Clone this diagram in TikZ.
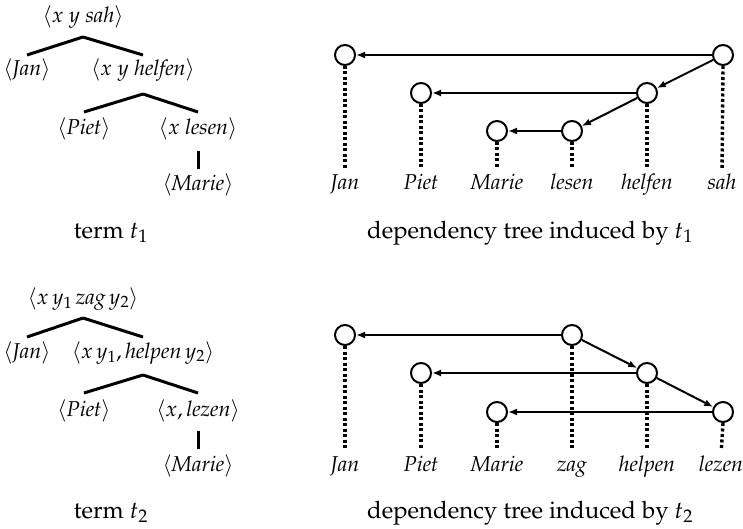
\documentclass[tikz,border=0pt]{standalone}
\usepackage[T1]{fontenc}
\usepackage{mathpazo}
\usetikzlibrary{arrows.meta}
\begin{document}
\begin{tikzpicture}[x=1pt,y=-1pt,
  lbl/.style={inner sep=0pt, text height=16pt, text depth=6pt, font=\fontsize{21.5}{26}\selectfont},
  captxt/.style={inner sep=0pt, anchor=base, font=\fontsize{24}{28}\selectfont},
  tline/.style={line width=3pt},
  depnode/.style={circle, draw, line width=2pt, minimum size=20pt, inner sep=0pt},
  dline/.style={line width=3.4pt, dash pattern=on 3pt off 2.5pt, shorten >=6pt},
  darr/.style={line width=2pt, -{Latex[length=9pt,width=7pt]}}]
\useasboundingbox (0,0) rectangle (743,529);

% ---------- term t1 ----------
\node[lbl] (a1) at (83,18) {$\langle x\ y\ \textit{sah}\rangle$};
\node[lbl] (a2) at (27,71) {$\langle\textit{Jan}\rangle$};
\node[lbl] (a3) at (143,71) {$\langle x\ y\ \textit{helfen}\rangle$};
\node[lbl] (a4) at (84,130) {$\langle\textit{Piet}\rangle$};
\node[lbl] (a5) at (198,130) {$\langle x\ \textit{lesen}\rangle$};
\node[lbl] (a6) at (198,186) {$\langle\textit{Marie}\rangle$};
\draw[tline] (a1.south |- 0,37) -- (a2.north |- 0,55);
\draw[tline] (a1.south |- 0,37) -- (a3.north |- 0,55);
\draw[tline] (a3.south |- 0,94) -- (a4.north |- 0,112);
\draw[tline] (a3.south |- 0,94) -- (a5.north |- 0,112);
\draw[tline] (a5.south |- 0,151) -- (a6.north |- 0,169);
\node[captxt] (c1) at (111,238) {term $t_1$};

% ---------- term t2 ----------
\node[lbl] (b1) at (83,299) {$\langle x\, y_1\, \textit{zag}\, y_2\rangle$};
\node[lbl] (b2) at (27,353) {$\langle\textit{Jan}\rangle$};
\node[lbl] (b3) at (143,353) {$\langle x\, y_1, \textit{helpen}\, y_2\rangle$};
\node[lbl] (b4) at (84,411) {$\langle\textit{Piet}\rangle$};
\node[lbl] (b5) at (198,411) {$\langle x, \textit{lezen}\rangle$};
\node[lbl] (b6) at (198,466) {$\langle\textit{Marie}\rangle$};
\draw[tline] (b1.south |- 0,318) -- (b2.north |- 0,337);
\draw[tline] (b1.south |- 0,318) -- (b3.north |- 0,337);
\draw[tline] (b3.south |- 0,375) -- (b4.north |- 0,393);
\draw[tline] (b3.south |- 0,375) -- (b5.north |- 0,393);
\draw[tline] (b5.south |- 0,431) -- (b6.north |- 0,449);
\node[captxt] (c2) at (111,518) {term $t_2$};

% ---------- dependency tree 1 ----------
\node[depnode] (d1) at (345,55) {};
\node[depnode] (d2) at (421,93) {};
\node[depnode] (d3) at (497,131) {};
\node[depnode] (d4) at (572,131) {};
\node[depnode] (d5) at (647,93) {};
\node[depnode] (d6) at (723,55) {};
\node[lbl] (w1) at (345,185) {\itshape Jan};
\node[lbl] (w2) at (421,185) {\itshape Piet};
\node[lbl] (w3) at (497,185) {\itshape Marie};
\node[lbl] (w4) at (572,185) {\itshape lesen};
\node[lbl] (w5) at (647,185) {\itshape helfen};
\node[lbl] (w6) at (722,185) {\itshape sah};
\foreach \i in {1,...,6} {\draw[dline] (d\i.south) -- (w\i.north);}
\draw[darr] (d6) -- (d1);
\draw[darr] (d6) -- (d5);
\draw[darr] (d5) -- (d2);
\draw[darr] (d5) -- (d4);
\draw[darr] (d4) -- (d3);
\node[captxt] (c3) at (530,238) {dependency tree induced by $t_1$};

% ---------- dependency tree 2 ----------
\node[depnode] (e1) at (345,335) {};
\node[depnode] (e2) at (421,373) {};
\node[depnode] (e3) at (497,412) {};
\node[depnode] (e4) at (572,335) {};
\node[depnode] (e5) at (647,373) {};
\node[depnode] (e6) at (723,412) {};
\node[lbl] (v1) at (345,466) {\itshape Jan};
\node[lbl] (v2) at (421,466) {\itshape Piet};
\node[lbl] (v3) at (497,466) {\itshape Marie};
\node[lbl] (v4) at (572,466) {\itshape zag};
\node[lbl] (v5) at (647,466) {\itshape helpen};
\node[lbl] (v6) at (721,466) {\itshape lezen};
\foreach \i in {1,...,6} {\draw[dline] (e\i.south) -- (v\i.north);}
\draw[darr] (e4) -- (e1);
\draw[darr] (e4) -- (e5);
\draw[darr] (e5) -- (e2);
\draw[darr] (e5) -- (e6);
\draw[darr] (e6) -- (e3);
\node[captxt] (c4) at (530,518) {dependency tree induced by $t_2$};
\end{tikzpicture}
\end{document}
